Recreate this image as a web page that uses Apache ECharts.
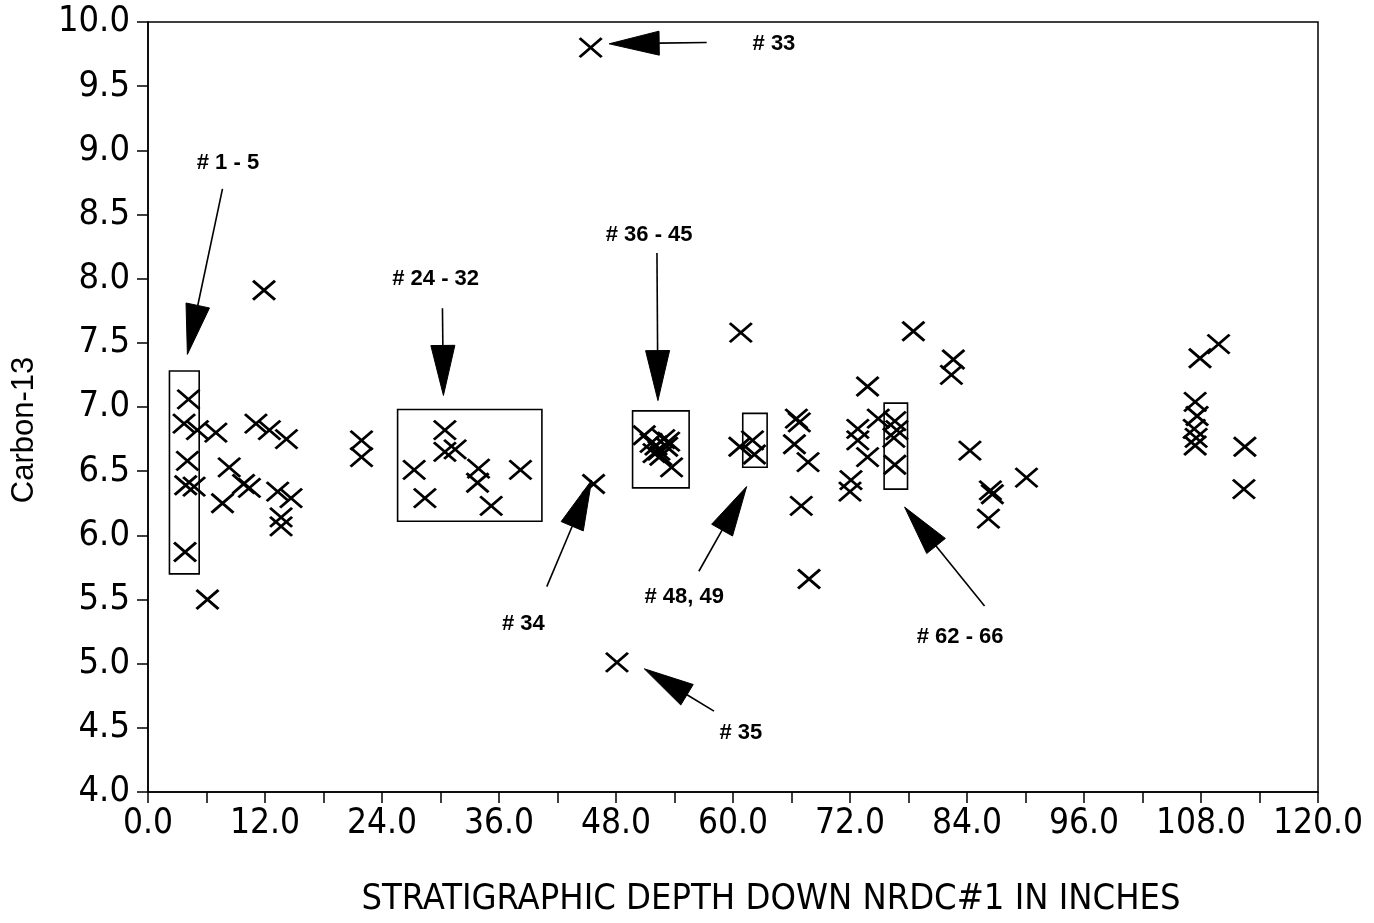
<!DOCTYPE html>
<html>
<head>
<meta charset="utf-8">
<script src="https://cdn.jsdelivr.net/npm/echarts@6/dist/echarts.min.js"></script>
<style>
html,body{margin:0;padding:0;background:#fff;}
#chart{width:1374px;height:923px;}
</style>
</head>
<body>
<div id="chart"></div>
<script>
// ---- data (depth in inches, Carbon-13 value) ----
const depth = [
  11.9, 4.15, 3.7, 5.07, 6.96, 11.07, 12.45, 14.2, 4.04, 8.33,
  3.87, 4.73, 9.8, 10.4, 7.64, 13.3, 14.67, 13.65, 13.65, 3.8,
  6.1, 21.9, 21.9,
  27.3, 28.4, 30.45, 30.45, 31.5, 33.9, 33.8, 35.2, 38.2,
  45.4, 45.7, 48.1,
  50.9, 51.6, 52.1, 52.4, 52.9, 53.2, 52.6, 53.4, 51.9, 53.7,
  60.8, 60.7, 62.0, 62.2,
  66.5, 66.8, 66.3, 67.7, 67.0, 67.8,
  73.8, 72.8, 74.9, 72.8, 73.8, 72.1, 72.0,
  76.6, 76.8, 76.5, 76.6,
  78.5, 82.6, 82.4, 84.3, 86.4, 86.6, 86.2, 90.1,
  107.4, 107.6, 107.3, 107.5, 107.4, 107.9, 109.8, 112.5, 112.4
];
const carbon13 = [
  7.91, 7.06, 6.87, 6.82, 6.80, 6.87, 6.82, 6.75, 6.58, 6.53,
  6.39, 6.38, 6.40, 6.37, 6.25, 6.34, 6.29, 6.14, 6.07, 5.87,
  5.50, 6.74, 6.61,
  6.51, 6.29, 6.82, 6.65, 6.67, 6.52, 6.41, 6.23, 6.51,
  9.80, 6.40, 5.01,
  6.78, 6.72, 6.70, 6.66, 6.75, 6.69, 6.62, 6.73, 6.64, 6.53,
  7.58, 6.69, 6.74, 6.63,
  6.91, 6.88, 6.71, 6.57, 6.23, 5.66,
  7.16, 6.83, 6.91, 6.74, 6.61, 6.43, 6.34,
  6.89, 6.82, 6.76, 6.55,
  7.59, 7.37, 7.25, 6.66, 6.35, 6.32, 6.13, 6.45,
  7.04, 6.93, 6.83, 6.76, 6.70, 7.38, 7.49, 6.69, 6.36
];

// group boxes: [xMin, yMax, xMax, yMin]
const boxX1 = [2.2, 25.6, 49.7, 61.0, 75.5];
const boxY1 = [7.28, 6.98, 6.97, 6.95, 7.03];
const boxX2 = [5.25, 40.4, 55.5, 63.5, 77.9];
const boxY2 = [5.70, 6.11, 6.37, 6.53, 6.36];

// annotation arrows (start -> tip)
const arrowX1 = [7.64, 30.2, 52.2, 57.3, 40.9, 56.5, 85.8, 58.05];
const arrowY1 = [8.70, 7.77, 8.20, 9.84, 5.60, 5.72, 5.45, 4.63];
const arrowX2 = [4.04, 30.3, 52.3, 47.3, 45.5, 61.4, 77.6, 50.9];
const arrowY2 = [7.41, 7.09, 7.05, 9.83, 6.43, 6.38, 6.22, 4.96];

// annotation labels
const labelText = ['# 1 - 5', '# 24 - 32', '# 36 - 45', '# 33', '# 34', '# 48, 49', '# 62 - 66', '# 35'];
const labelX = [8.2, 29.5, 51.4, 64.2, 38.5, 55.0, 83.3, 60.8];
const labelY = [8.90, 8.00, 8.34, 9.83, 5.31, 5.52, 5.21, 4.46];

// axis settings
const xTickStep = 6, xMin = 0, xMax = 120;
const yTickStep = 0.5, yMin = 4, yMax = 10;
const xTitle = 'STRATIGRAPHIC DEPTH DOWN NRDC#1 IN INCHES';
const yTitle = 'Carbon-13';

const points = depth.map((d, i) => [d, carbon13[i]]);
const boxes = boxX1.map((x, i) => [x, boxY1[i], boxX2[i], boxY2[i]]);
const arrows = arrowX1.map((x, i) => [x, arrowY1[i], arrowX2[i], arrowY2[i]]);
const labels = labelText.map((t, i) => [labelX[i], labelY[i], t]);

const narrow = "'Liberation Sans Narrow','Arial Narrow','DejaVu Sans Condensed',sans-serif";

const chart = echarts.init(document.getElementById('chart'), null, {renderer: 'canvas'});
chart.setOption({
  animation: false,
  backgroundColor: '#fff',
  grid: {left: 148, right: 56, top: 22, bottom: 128, show: true, borderColor: '#000', borderWidth: 1.5, containLabel: false},
  xAxis: {
    type: 'value', min: xMin, max: xMax, interval: xTickStep,
    name: xTitle, nameLocation: 'middle', nameGap: 90,
    nameTextStyle: {fontFamily: narrow, fontSize: 36, color: '#000', padding: [0, 0, 0, 76]},
    axisLine: {lineStyle: {color: '#000', width: 1.5}},
    axisTick: {length: 11, lineStyle: {color: '#000', width: 1.5}},
    axisLabel: {
      margin: 14, color: '#000', fontFamily: narrow, fontSize: 35,
      formatter: v => (Math.round(v) % 12 === 0 ? v.toFixed(1) : '')
    },
    splitLine: {show: false}
  },
  yAxis: {
    type: 'value', min: yMin, max: yMax, interval: yTickStep,
    name: yTitle, nameLocation: 'middle', nameGap: 108, nameRotate: 90,
    nameTextStyle: {fontFamily: "'Liberation Sans',Arial,sans-serif", fontSize: 31, color: '#000', padding: [0, 46, 0, 0]},
    axisLine: {lineStyle: {color: '#000', width: 1.5}},
    axisTick: {length: 11, lineStyle: {color: '#000', width: 1.5}},
    axisLabel: {
      margin: 18, color: '#000', fontFamily: narrow, fontSize: 36,
      formatter: v => v.toFixed(1)
    },
    splitLine: {show: false}
  },
  series: [
    {
      type: 'scatter',
      data: points,
      symbol: 'path://M0,0L20,18M20,0L0,18',
      symbolSize: [22, 19],
      itemStyle: {color: 'none', borderColor: '#000', borderWidth: 2.8, opacity: 1},
      emphasis: {disabled: true},
      silent: true,
      z: 3
    },
    {
      type: 'custom',
      data: boxes,
      encode: {x: [0, 2], y: [1, 3]},
      silent: true,
      renderItem: (params, api) => {
        const p1 = api.coord([api.value(0), api.value(1)]);
        const p2 = api.coord([api.value(2), api.value(3)]);
        return {
          type: 'rect',
          shape: {x: Math.min(p1[0], p2[0]), y: Math.min(p1[1], p2[1]),
                  width: Math.abs(p2[0] - p1[0]), height: Math.abs(p2[1] - p1[1])},
          style: {fill: 'none', stroke: '#000', lineWidth: 1.6}
        };
      },
      z: 2
    },
    {
      type: 'custom',
      data: arrows,
      encode: {x: [0, 2], y: [1, 3]},
      silent: true,
      renderItem: (params, api) => {
        const s = api.coord([api.value(0), api.value(1)]);
        const t = api.coord([api.value(2), api.value(3)]);
        const dx = t[0] - s[0], dy = t[1] - s[1];
        const len = Math.sqrt(dx * dx + dy * dy);
        const ux = dx / len, uy = dy / len;
        const headL = 50, headW = 24;
        const bx = t[0] - ux * headL, by = t[1] - uy * headL;
        const nx = -uy * headW / 2, ny = ux * headW / 2;
        return {
          type: 'group',
          children: [
            {type: 'line', shape: {x1: s[0], y1: s[1], x2: bx, y2: by},
             style: {stroke: '#000', lineWidth: 1.6}},
            {type: 'polygon', shape: {points: [[t[0], t[1]], [bx + nx, by + ny], [bx - nx, by - ny]]},
             style: {fill: '#000', stroke: '#000', lineWidth: 1}}
          ]
        };
      },
      z: 4
    },
    {
      type: 'custom',
      data: labels,
      encode: {x: 0, y: 1},
      silent: true,
      renderItem: (params, api) => {
        const p = api.coord([api.value(0), api.value(1)]);
        return {
          type: 'text',
          x: p[0], y: p[1],
          style: {text: labels[params.dataIndex][2], fill: '#000',
                  fontFamily: "'Liberation Sans',Arial,sans-serif", fontWeight: 'bold', fontSize: 22,
                  align: 'center', verticalAlign: 'middle'}
        };
      },
      z: 5
    }
  ]
});
</script>
</body>
</html>
